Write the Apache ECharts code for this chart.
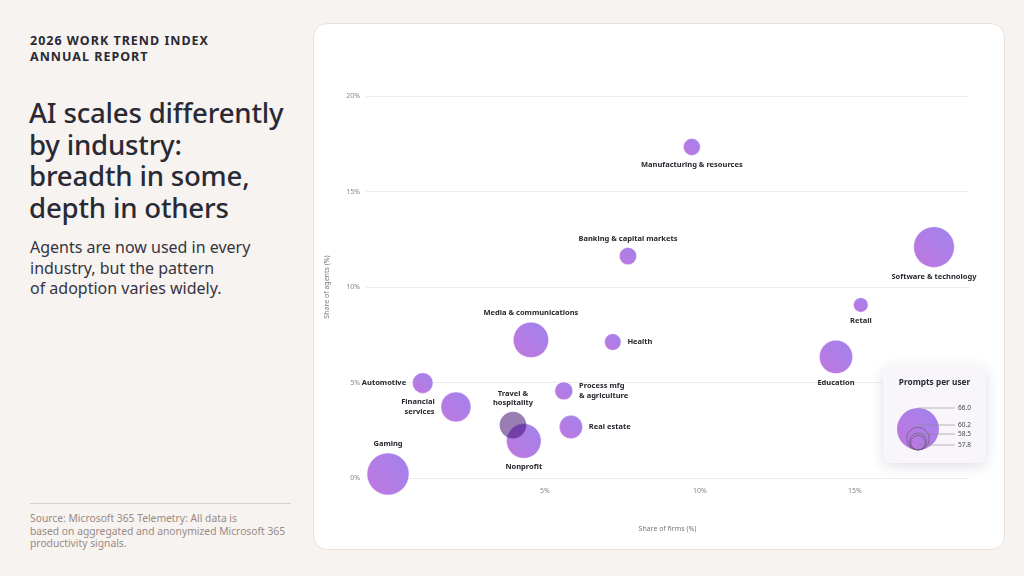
<!DOCTYPE html>
<html>
<head>
<meta charset="utf-8">
<script src="https://cdn.jsdelivr.net/npm/echarts@6/dist/echarts.min.js"></script>
<style>
  html, body { margin: 0; padding: 0; }
  body {
    width: 1024px; height: 576px; overflow: hidden; position: relative;
    background: #f7f3f1; font-family: 'Noto Sans', sans-serif; color: #2a2a35;
  }
  .kicker {
    position: absolute; left: 30px; top: 33px;
    font-size: 12.5px; font-weight: 700; letter-spacing: 1.0px; line-height: 16px;
  }
  .title {
    position: absolute; left: 29px; top: 97px; width: 290px;
    font-size: 27.6px; font-weight: 500; line-height: 31.7px; letter-spacing: -0.2px;
  }
  .sub {
    position: absolute; left: 30px; top: 237px; width: 270px;
    font-size: 16px; line-height: 20.5px; color: #35353f;
  }
  .rule { position: absolute; left: 30px; top: 503px; width: 261px; height: 1px; background: #d9cfc9; }
  .source {
    position: absolute; left: 30px; top: 512px; width: 290px;
    font-size: 10.3px; line-height: 12.5px; color: #998a85;
  }
  .card {
    position: absolute; left: 313px; top: 23px; width: 690px; height: 525px;
    background: #fff; border: 1px solid #ebe1db; border-radius: 14px;
  }
  #chart { position: absolute; left: 0; top: 0; width: 1024px; height: 576px; }
</style>
</head>
<body>
<div class="kicker">2026 WORK TREND INDEX<br>ANNUAL REPORT</div>
<div class="title">AI scales differently<br>by industry:<br>breadth in some,<br>depth in others</div>
<div class="sub">Agents are now used in every<br>industry, but the pattern<br>of adoption varies widely.</div>
<div class="rule"></div>
<div class="source">Source: Microsoft 365 Telemetry: All data is<br>based on aggregated and anonymized Microsoft 365<br>productivity signals.</div>
<div class="card"></div>
<div id="chart"></div>
<script>
// data
const industries = [
  'Gaming', 'Automotive', 'Financial services', 'Media & communications',
  'Nonprofit', 'Travel & hospitality', 'Process mfg & agriculture', 'Real estate',
  'Health', 'Banking & capital markets', 'Manufacturing & resources',
  'Education', 'Retail', 'Software & technology'
]
const firmShare = [-0.06, 1.06, 2.13, 4.55, 4.32, 3.97, 5.61, 5.84, 7.19, 7.68, 9.74, 14.39, 15.19, 17.55]
const agentShare = [0.21, 4.97, 3.72, 7.23, 1.94, 2.77, 4.56, 2.67, 7.12, 11.62, 17.33, 6.34, 9.06, 12.09]
const promptsPerUser = [66.0, 59.6, 62.4, 64.0, 63.8, 61.4, 58.8, 60.4, 58.4, 58.6, 58.5, 63.4, 57.8, 65.6]
const legendValues = [66.0, 60.2, 58.5, 57.8]
const xTicks = [5, 10, 15]

// label placement (style only)
const labelSide = {
  'Gaming': 'top', 'Automotive': 'left', 'Financial services': 'left',
  'Media & communications': 'top', 'Nonprofit': 'bottom', 'Travel & hospitality': 'top',
  'Process mfg & agriculture': 'right', 'Real estate': 'right', 'Health': 'right',
  'Banking & capital markets': 'top', 'Manufacturing & resources': 'bottom',
  'Education': 'bottom', 'Retail': 'bottom', 'Software & technology': 'bottom'
}
const labelText = {
  'Financial services': 'Financial\nservices',
  'Travel & hospitality': 'Travel &\nhospitality',
  'Process mfg & agriculture': 'Process mfg\n& agriculture'
}

const P_MIN = 57.8, P_MAX = 66.0
const radiusOf = p => 7.3 + (p - P_MIN) / (P_MAX - P_MIN) * 13.7

const bubbleFill = () => new echarts.graphic.LinearGradient(0, 1, 1, 0, [
  { offset: 0, color: '#c077dd' },
  { offset: 1, color: '#a083ee' }
])

const chart = echarts.init(document.getElementById('chart'), null, { renderer: 'canvas' })

const seriesData = industries.map((name, i) => {
  const item = {
    name: name,
    value: [firmShare[i], agentShare[i], promptsPerUser[i]],
    label: {
      position: labelSide[name],
      distance: labelSide[name] === 'left' || labelSide[name] === 'right' ? 6 : 4
    }
  }
  if (name === 'Travel & hospitality') {
    item.itemStyle = { color: 'rgba(58,8,110,0.52)', borderWidth: 0 }
  }
  return item
})

// legend card
const lx = 883, ly = 366, lw = 103, lh = 97
const cx = 918, baseY = 450
const lineYs = [0, 17, 26, 37] // label rows below top of largest circle
const legendGraphics = [
  {
    type: 'rect', shape: { x: lx, y: ly, width: lw, height: lh, r: 8 },
    style: { fill: '#f8f6fb', shadowBlur: 14, shadowColor: 'rgba(60,40,80,0.16)', shadowOffsetY: 3 },
    z: 10
  },
  {
    type: 'text', x: lx + lw / 2, y: 383, z: 11,
    style: { text: 'Prompts per user', align: 'center', verticalAlign: 'middle',
      font: 'bold 8.3px "Noto Sans"', fill: '#2a2a35' }
  }
]
legendValues.forEach((v, i) => {
  const r = radiusOf(v)
  legendGraphics.push({
    type: 'circle', z: 11,
    shape: { cx: cx, cy: baseY - r, r: r },
    style: i === 0 ? { fill: bubbleFill() } : { fill: 'none', stroke: '#5a4f66', lineWidth: 0.6 }
  })
  const top = baseY - 2 * radiusOf(legendValues[0]) + lineYs[i]
  legendGraphics.push({
    type: 'line', z: 12,
    shape: { x1: cx, y1: top, x2: 955, y2: top },
    style: { stroke: '#8a8a90', lineWidth: 0.6 }
  })
  legendGraphics.push({
    type: 'text', z: 12, x: 958, y: top,
    style: { text: v.toFixed(1), verticalAlign: 'middle', font: '6.5px "Noto Sans"', fill: '#444' }
  })
})

const option = {
  animation: false,
  grid: { left: 366, right: 55, top: 96, bottom: 98 },
  xAxis: {
    type: 'value', min: -0.77, max: 18.68,
    name: 'Share of firms (%)', nameLocation: 'middle', nameGap: 47,
    nameTextStyle: { fontSize: 7, color: '#777', fontFamily: 'Noto Sans' },
    axisLine: { show: false }, axisTick: { show: false }, splitLine: { show: false },
    axisLabel: {
      customValues: xTicks, formatter: '{value}%', margin: 9,
      fontSize: 7, color: '#888', fontFamily: 'Noto Sans'
    }
  },
  yAxis: {
    type: 'value', min: 0, max: 20, interval: 5,
    name: 'Share of agents (%)', nameLocation: 'middle', nameGap: 36, nameRotate: 90,
    nameTextStyle: { fontSize: 7, color: '#777', fontFamily: 'Noto Sans' },
    axisLine: { show: false }, axisTick: { show: false },
    splitLine: { lineStyle: { color: '#ececec', width: 1 } },
    axisLabel: { formatter: '{value}%', margin: 6, fontSize: 7, color: '#888', fontFamily: 'Noto Sans' }
  },
  series: [{
    type: 'scatter',
    data: seriesData,
    symbolSize: val => 2 * radiusOf(val[2]),
    itemStyle: { color: bubbleFill(), borderColor: 'rgba(255,255,255,0.7)', borderWidth: 0.6, opacity: 1 },
    label: {
      show: true,
      formatter: p => labelText[p.name] || p.name,
      fontSize: 7.5, fontWeight: 'bold', color: '#26262e', fontFamily: 'Noto Sans',
      lineHeight: 9.5
    },
    emphasis: { disabled: true }
  }],
  graphic: legendGraphics
}

chart.setOption(option)
</script>
</body>
</html>
